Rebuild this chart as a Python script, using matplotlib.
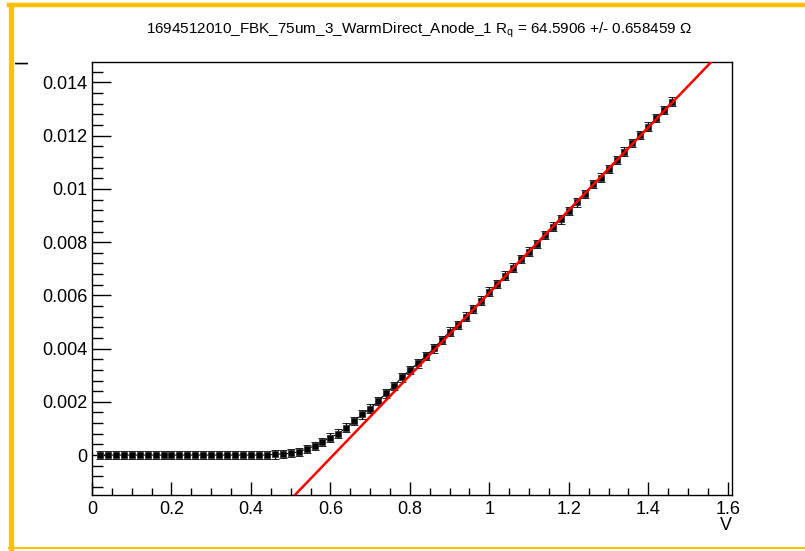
import matplotlib
matplotlib.use("Agg")
import matplotlib.pyplot as plt
from matplotlib.lines import Line2D
from matplotlib.ticker import MultipleLocator, FuncFormatter
import numpy as np

plt.rcParams['font.family'] = ['Liberation Sans', 'DejaVu Sans']

title = "1694512010_FBK_75um_3_WarmDirect_Anode_1 R$_{\\mathregular{q}}$ = 64.5906 +/- 0.658459 \u03a9"
x_label = "V"
y_label = "I"

voltage = [0.02, 0.04, 0.06, 0.08, 0.10, 0.12, 0.14, 0.16, 0.18, 0.20,
           0.22, 0.24, 0.26, 0.28, 0.30, 0.32, 0.34, 0.36, 0.38, 0.40,
           0.42, 0.44, 0.46, 0.48, 0.50, 0.52, 0.54, 0.56, 0.58, 0.60,
           0.62, 0.64, 0.66, 0.68, 0.70, 0.72, 0.74, 0.76, 0.78, 0.80,
           0.82, 0.84, 0.86, 0.88, 0.90, 0.92, 0.94, 0.96, 0.98, 1.00,
           1.02, 1.04, 1.06, 1.08, 1.10, 1.12, 1.14, 1.16, 1.18, 1.20,
           1.22, 1.24, 1.26, 1.28, 1.30, 1.32, 1.34, 1.36, 1.38, 1.40,
           1.42, 1.44, 1.46]
current = [0.0, 0.0, 0.0, 0.0, 0.0, 0.0, 0.0, 0.0, 0.0, 0.0,
           0.0, 0.0, 0.0, 0.0, 0.0, 0.0, 0.0, 0.0, 0.0, 0.0,
           0.0, 0.0, 0.00003, 0.00004, 0.00007, 0.00012, 0.00023, 0.00034, 0.00050, 0.00066,
           0.00081, 0.00103, 0.00128, 0.00153, 0.00175, 0.00203, 0.00232, 0.00260, 0.00292, 0.00320,
           0.00345, 0.00372, 0.00401, 0.00432, 0.00464, 0.00489, 0.00520, 0.00548, 0.00580, 0.00614,
           0.00643, 0.00674, 0.00704, 0.00736, 0.00764, 0.00793, 0.00827, 0.00858, 0.00886, 0.00918,
           0.00950, 0.00981, 0.01018, 0.01043, 0.01075, 0.01109, 0.01140, 0.01172, 0.01203, 0.01234,
           0.01266, 0.01297, 0.01328]
current_err = 0.00016

fit_slope = 0.01553
fit_x0 = 0.6072
fit_range = [0.40, 1.70]

W, H = 805, 551
fig = plt.figure(figsize=(W / 100, H / 100), dpi=100)
ax = fig.add_axes([92 / W, 1 - 495 / H, (732 - 92) / W, (495 - 62) / H])

ax.plot(voltage, current, color='black', linewidth=0.8, zorder=2)
ax.errorbar(voltage, current, yerr=current_err, fmt='s', color='black',
            markersize=3.8, markeredgecolor='#333333', markeredgewidth=0.6,
            elinewidth=1.0, capsize=3.0, capthick=1.0, zorder=3)

fx = np.array(fit_range)
ax.plot(fx, fit_slope * (fx - fit_x0), color='#ff0000', linewidth=1.8, zorder=4)

ax.set_xlim(0, 1.6106)
ax.set_ylim(-0.0015, 0.01477)

ax.xaxis.set_major_locator(MultipleLocator(0.2))
ax.xaxis.set_minor_locator(MultipleLocator(0.05))
ax.yaxis.set_major_locator(MultipleLocator(0.002))
ax.yaxis.set_minor_locator(MultipleLocator(0.0004))

def fmt(v, pos):
    s = ('%.3f' % v).rstrip('0').rstrip('.')
    if s in ('-0', ''):
        s = '0'
    return s

ax.xaxis.set_major_formatter(FuncFormatter(fmt))
ax.yaxis.set_major_formatter(FuncFormatter(fmt))

ax.tick_params(axis='both', which='both', direction='in', labelsize=13,
               top=False, right=False, color='black')
ax.tick_params(axis='y', which='major', length=13.5, width=1.0, pad=3)
ax.tick_params(axis='y', which='minor', length=8, width=1.0)
ax.tick_params(axis='x', which='major', length=9.5, width=1.0, pad=4)
ax.tick_params(axis='x', which='minor', length=5, width=1.0)
for sp in ax.spines.values():
    sp.set_linewidth(1.0)

fig.text(419 / W, 1 - 30 / H, title, ha='center', va='center', fontsize=11)
fig.text(732 / W, 1 - 525 / H, x_label, ha='right', va='center', fontsize=13)
fig.text(23 / W, 1 - 62 / H, y_label, ha='center', va='center', fontsize=13,
         rotation=90)

border = '#ffc000'
fig.add_artist(Line2D([10.5 / W, 10.5 / W], [1 - 5 / H, 1 - 548 / H],
                      transform=fig.transFigure, color=border, linewidth=3.8))
fig.add_artist(Line2D([8.5 / W, 1.0], [1 - 5 / H, 1 - 5 / H],
                      transform=fig.transFigure, color=border, linewidth=3.2))
fig.add_artist(Line2D([8.5 / W, 1.0], [1 - 548 / H, 1 - 548 / H],
                      transform=fig.transFigure, color=border, linewidth=1.5))

fig.savefig("out.png", dpi=100)
